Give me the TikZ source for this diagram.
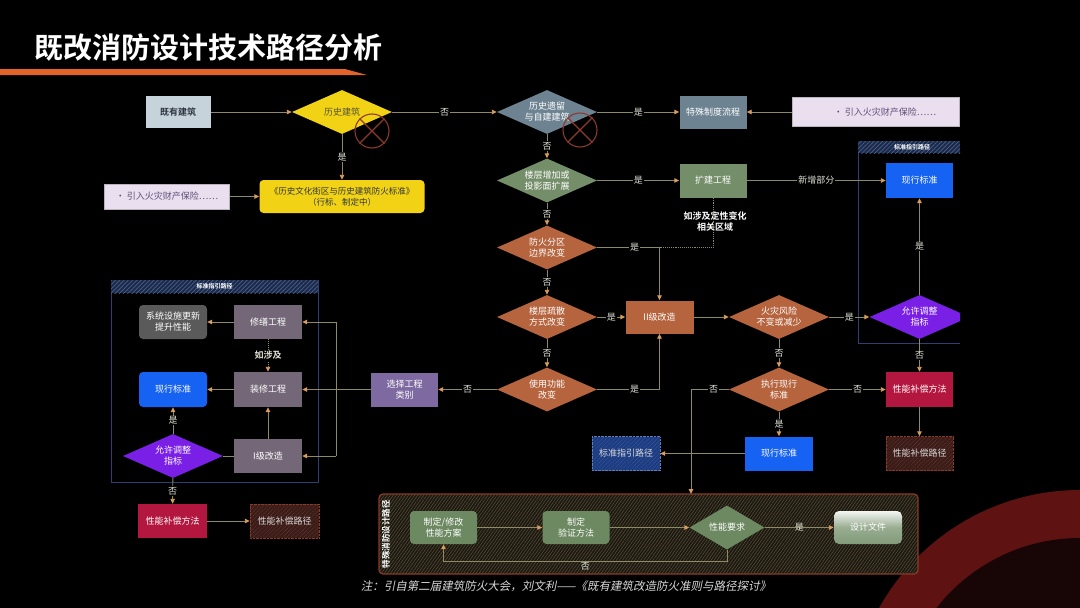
\documentclass[tikz,border=0pt]{standalone}
\usepackage{fontspec}
\setmainfont{Noto Sans CJK SC}[BoldFont={Noto Sans CJK SC Bold}]
\newfontfamily\cjkit{Noto Sans CJK SC}[FakeSlant=0.2]
\usetikzlibrary{shapes.geometric,arrows.meta,patterns.meta,calc}
\definecolor{orng}{HTML}{E2642A}
\definecolor{greyblue}{HTML}{C6D3DB}
\definecolor{yel}{HTML}{F2D214}
\definecolor{notec}{HTML}{EADFEE}
\definecolor{notetx}{HTML}{5E4E78}
\definecolor{slate}{HTML}{6D8391}
\definecolor{grn}{HTML}{748E69}
\definecolor{grn2}{HTML}{6C8961}
\definecolor{brn}{HTML}{B5643E}
\definecolor{blu}{HTML}{1662F2}
\definecolor{purp}{HTML}{7A1FE6}
\definecolor{crim}{HTML}{B3163E}
\definecolor{mauve}{HTML}{746878}
\definecolor{dgrey}{HTML}{5A5A5A}
\definecolor{lav}{HTML}{7E6AA0}
\definecolor{linec}{HTML}{8E8A66}
\definecolor{arrc}{HTML}{D99C5E}
\definecolor{xred}{HTML}{8C3A2E}
\definecolor{lblc}{HTML}{E2E2D8}
\definecolor{navyf}{HTML}{1B2A4C}
\definecolor{navyl}{HTML}{4C6288}
\definecolor{framec}{HTML}{2E3F78}
\definecolor{ringc}{HTML}{5E1212}
\definecolor{ringin}{HTML}{180505}
\definecolor{spfill}{HTML}{1C1912}
\definecolor{spline}{HTML}{5A5036}
\definecolor{spborder}{HTML}{8A3A28}
\definecolor{gbf}{HTML}{1D3D80}
\definecolor{gbl}{HTML}{3A5CA8}
\definecolor{rbf}{HTML}{3A1C18}
\definecolor{rbl}{HTML}{6E3A30}
\definecolor{darktx}{HTML}{2E3540}
\begin{document}
\begin{tikzpicture}[x=1pt,y=-1pt,
  txt/.style={font=\fontsize{9}{11}\selectfont},
  box/.style={txt, rectangle, minimum width=67pt, minimum height=33pt, inner sep=1pt, text=white, align=center},
  dia/.style={txt, diamond, aspect=2.2, minimum width=100pt, minimum height=44pt, inner sep=0pt, text=white, align=center},
  ln/.style={draw=linec, line width=0.9pt},
  arr/.style={ln, -{Triangle[length=5pt,width=4.5pt,color=arrc,fill=arrc]}},
  dotarr/.style={arr, densely dotted},
  lbl/.style={fill=black, text=lblc, inner sep=1pt, font=\fontsize{9}{10}\selectfont},
  lblnf/.style={text=lblc, inner sep=1pt, font=\fontsize{9}{10}\selectfont},
  note/.style={txt, rectangle, fill=notec, draw=notec!80!black, text=notetx, inner sep=2pt},
  hatchblue/.style={box, minimum width=68pt, minimum height=34pt, preaction={fill=gbf}, pattern={Lines[angle=45,distance=3pt,line width=0.7pt]}, pattern color=gbl, draw=gbl!80!white, densely dotted, text=white!85!black},
  hatchred/.style={box, minimum width=68pt, minimum height=34pt, preaction={fill=rbf}, pattern={Lines[angle=45,distance=3pt,line width=0.7pt]}, pattern color=rbl, draw=spborder, densely dotted, text=white!85!black},
  hdr/.style={preaction={fill=navyf}, pattern={Lines[angle=45,distance=3pt,line width=0.7pt]}, pattern color=navyl},
  frm/.style={draw=framec, line width=1pt},
  xc/.style={circle, draw=xred, line width=1.1pt, minimum size=34pt, inner sep=0pt}
]
\fill[black] (0,0) rectangle (1080,608);
\useasboundingbox (0,0) rectangle (1080,608);

% decoration ring
\begin{scope}
  \clip (0,0) rectangle (1080,608);
  \fill[ringc] (1080,720) circle[radius=230pt];
  \fill[ringin] (1080,720) circle[radius=182pt];
\end{scope}

% title
\node[anchor=west, text=white, font=\bfseries\fontsize{29}{31}\selectfont, inner sep=0pt] (title) at (34,48) {既改消防设计技术路径分析};
\fill[orng] (0,69) -- (345,69) -- (367,75) -- (0,75) -- cycle;

% containers (left and right)
\draw[frm] (111,280) rectangle (318,482);
\fill[hdr] (111,280) rectangle (318,293);
\node[text=white, font=\bfseries\fontsize{6}{6}\selectfont, inner sep=0pt] (hdrL) at (214.5,286.5) {标准指引路径};
\draw[frm] (960,141) -- (858,141) -- (858,343) -- (960,343);
\fill[hdr] (858,141) rectangle (960,153);
\node[text=white, font=\bfseries\fontsize{6}{6}\selectfont, inner sep=0pt] (hdrR) at (912,147) {标准指引路径};

% bottom container
\draw[spborder, line width=1.2pt, rounded corners=4pt, preaction={fill=spfill}, pattern={Lines[angle=55,distance=2.5pt,line width=0.5pt]}, pattern color=spline] (379,494) rectangle (918,574);
\node[rotate=90, text=white, font=\bfseries\fontsize{8.5}{9}\selectfont, inner sep=0pt] (splbl) at (386,534) {特殊消防设计路径};

% top row
\node[box, fill=greyblue, text=darktx, font=\bfseries\fontsize{9}{11}\selectfont, minimum width=65pt, minimum height=32pt] (exist) at (178,112) {既有建筑};
\node[dia, fill=yel, text=darktx!80!yel] (hist) at (342,112) {历史建筑};
\node[xc] (x1) at (372,131) {};
\draw[xred, line width=1.1pt] (x1.north west) -- (x1.south east) (x1.north east) -- (x1.south west);
\node[box, fill=yel, text=darktx, rounded corners=4pt, minimum width=165pt, font=\fontsize{8.5}{11}\selectfont] (std) at (342,196.5) {《历史文化街区与历史建筑防火标准》\\（行标、制定中）};
\node[note, minimum width=125pt, minimum height=25pt] (noteL) at (167,196.5) {•\ 引入火灾财产保险……};
\node[dia, fill=slate] (legacy) at (547,112) {历史遗留\\与自建建筑};
\node[xc] (x2) at (580,130) {};
\draw[xred, line width=1.1pt] (x2.north west) -- (x2.south east) (x2.north east) -- (x2.south west);
\node[box, fill=slate] (special) at (713,112) {特殊制度流程};
\node[note, minimum width=167pt, minimum height=29pt] (noteR) at (876,112) {\hspace*{18pt}•\ 引入火灾财产保险……};

% middle column
\node[dia, fill=grn] (floor) at (547,180.5) {楼层增加或\\投影面扩展};
\node[box, fill=grn, minimum height=34pt] (ext) at (713,180.5) {扩建工程};
\node[txt, text=white, align=center, font=\bfseries\fontsize{9}{11}\selectfont] (rel) at (715,222) {如涉及定性变化\\相关区域};
\node[dia, fill=brn] (fire) at (547,247.5) {防火分区\\边界改变};
\node[dia, fill=brn] (evac) at (547,317) {楼层疏散\\方式改变};
\node[dia, fill=brn] (use) at (547,389.5) {使用功能\\改变};
\node[box, fill=brn, minimum width=68pt] (II) at (659.5,317) {II级改造};
\node[dia, fill=brn] (risk) at (779,317) {火灾风险\\不变或减少};
\node[dia, fill=brn] (exec) at (779,389.5) {执行现行\\标准};
\node[box, fill=blu, minimum width=68pt, minimum height=34pt] (cur2) at (779,453.5) {现行标准};
\node[hatchblue] (guide2) at (626,453.5) {标准指引路径};

% right column
\node[box, fill=blu, minimum height=35pt] (cur1) at (919.5,180.5) {现行标准};
\begin{scope}
  \clip (0,0) rectangle (960,608);
  \node[dia, fill=purp] (adjR) at (919.5,317) {允许调整\\指标};
\end{scope}
\node[box, fill=crim, minimum height=35pt] (compR) at (919.5,389.5) {性能补偿方法};
\node[hatchred, minimum width=67pt] (pathR) at (919.5,453.5) {性能补偿路径};

% left block
\node[box, fill=dgrey, rounded corners=4pt, minimum width=68pt, minimum height=34pt] (sys) at (173,322) {系统设施更新\\提升性能};
\node[box, fill=mauve, minimum width=68pt, minimum height=34pt] (repair) at (268,322) {修缮工程};
\node[box, fill=blu, rounded corners=4pt, minimum width=68pt, minimum height=35pt] (curL) at (173,389.5) {现行标准};
\node[box, fill=mauve, minimum width=68pt, minimum height=35pt] (deco) at (268,389.5) {装修工程};
\node[dia, fill=purp] (adjL) at (173,456) {允许调整\\指标};
\node[box, fill=mauve, minimum width=68pt, minimum height=34pt] (Ilvl) at (268,456) {I级改造};
\node[box, fill=crim, minimum width=69pt, minimum height=34pt] (compL) at (172.5,521) {性能补偿方法};
\node[hatchred, minimum width=69pt] (pathL) at (284.5,521) {性能补偿路径};
\node[box, fill=lav, minimum height=34pt] (select) at (404.5,389.5) {选择工程\\类别};

% bottom flow
\node[box, fill=grn2, rounded corners=4pt] (p1) at (443.5,527.5) {制定/修改\\性能方案};
\node[box, fill=grn2, rounded corners=4pt] (p2) at (576,527.5) {制定\\验证方法};
\node[dia, fill=grn2, minimum width=75pt, minimum height=44pt] (preq) at (727,527.5) {性能要求};
\node[box, rounded corners=5pt, top color=white!92!grn2, bottom color=grn2!85!white, middle color=grn2!70!white, minimum width=68pt] (doc) at (868,527.5) {设计文件};

% footnote
\node[text=white!85!black, font=\cjkit\fontsize{11.5}{12}\selectfont, inner sep=0pt] (foot) at (566,586) {注：引自第二届建筑防火大会，刘文利——《既有建筑改造防火准则与路径探讨》};

% connectors top
\draw[arr] (exist) -- (hist);
\draw[arr] (hist) -- node[lbl]{否} (legacy);
\draw[arr] (hist) -- node[lbl]{是} (std);
\draw[arr] (noteL) -- (std);
\draw[arr] (legacy) -- node[lbl]{是} (special);
\draw[arr] (noteR) -- (special);
\draw[arr] (legacy) -- node[lbl]{否} (floor);
\draw[arr] (floor) -- node[lbl]{是} (ext);
\draw[arr] (ext) -- node[lbl]{新增部分} (cur1);
\draw[arr] (floor) -- node[lbl]{否} (fire);
\coordinate (dj) at (II.north |- fire.east);
\draw[ln, densely dotted] (ext.south) |- (dj);
\draw[arr] (fire.east) -| node[lbl, pos=0.3]{是} (II.north);
\draw[arr] (fire) -- node[lbl]{否} (evac);
\draw[arr] (evac) -- node[lbl]{是} (II);
\draw[arr] (evac) -- node[lbl]{否} (use);
\draw[arr] (use.east) -| node[lbl, pos=0.3]{是} (II.south);
\draw[arr] (use) -- node[lbl]{否} (select);
\draw[arr] (II) -- (risk);
\draw[arr] (risk) -- node[lbl]{是} (adjR);
\draw[arr] (adjR) -- node[lbl]{是} (cur1);
\draw[arr] (adjR) -- node[lbl]{否} (compR);
\draw[arr] (compR) -- (pathR);
\draw[arr] (risk) -- node[lbl]{否} (exec);
\draw[arr] (exec) -- node[lbl]{否} (compR);
\draw[arr] (exec) -- node[lbl]{是} (cur2);
\coordinate (vx) at (691,389.5);
\coordinate (sptop) at (691,494);
\draw[arr] (exec.west) -- node[lbl, pos=0.4]{否} (vx) -- (sptop);
\draw[arr] (cur2) -- (guide2);

% connectors left
\draw[arr] (select) -- (deco);
\coordinate (bt) at (336,322);
\coordinate (bb) at (336,456);
\draw[ln] (bt) -- (bb);
\draw[arr] (bt) -- (repair);
\draw[arr] (bb) -- (Ilvl);
\draw[arr] (repair) -- (sys);
\draw[dotarr] (repair) -- node[lbl, font=\bfseries\fontsize{9}{10}\selectfont]{如涉及} (deco);
\draw[arr] (deco) -- (curL);
\draw[arr] (Ilvl) -- (deco);
\draw[ln] (Ilvl) -- (adjL);
\draw[arr] (adjL) -- node[lbl]{是} (curL);
\draw[arr] (adjL) -- node[lbl]{否} (compL);
\draw[arr] (compL) -- (pathL);

% connectors bottom
\draw[arr] (p1) -- (p2);
\draw[arr] (p2) -- (preq);
\draw[arr] (preq) -- node[lblnf]{是} (doc);
\draw[arr] (preq.south) -- ++(0,12) -| node[lblnf, pos=0.25, below=-1pt]{否} (p1.south);
\end{tikzpicture}
\end{document}
